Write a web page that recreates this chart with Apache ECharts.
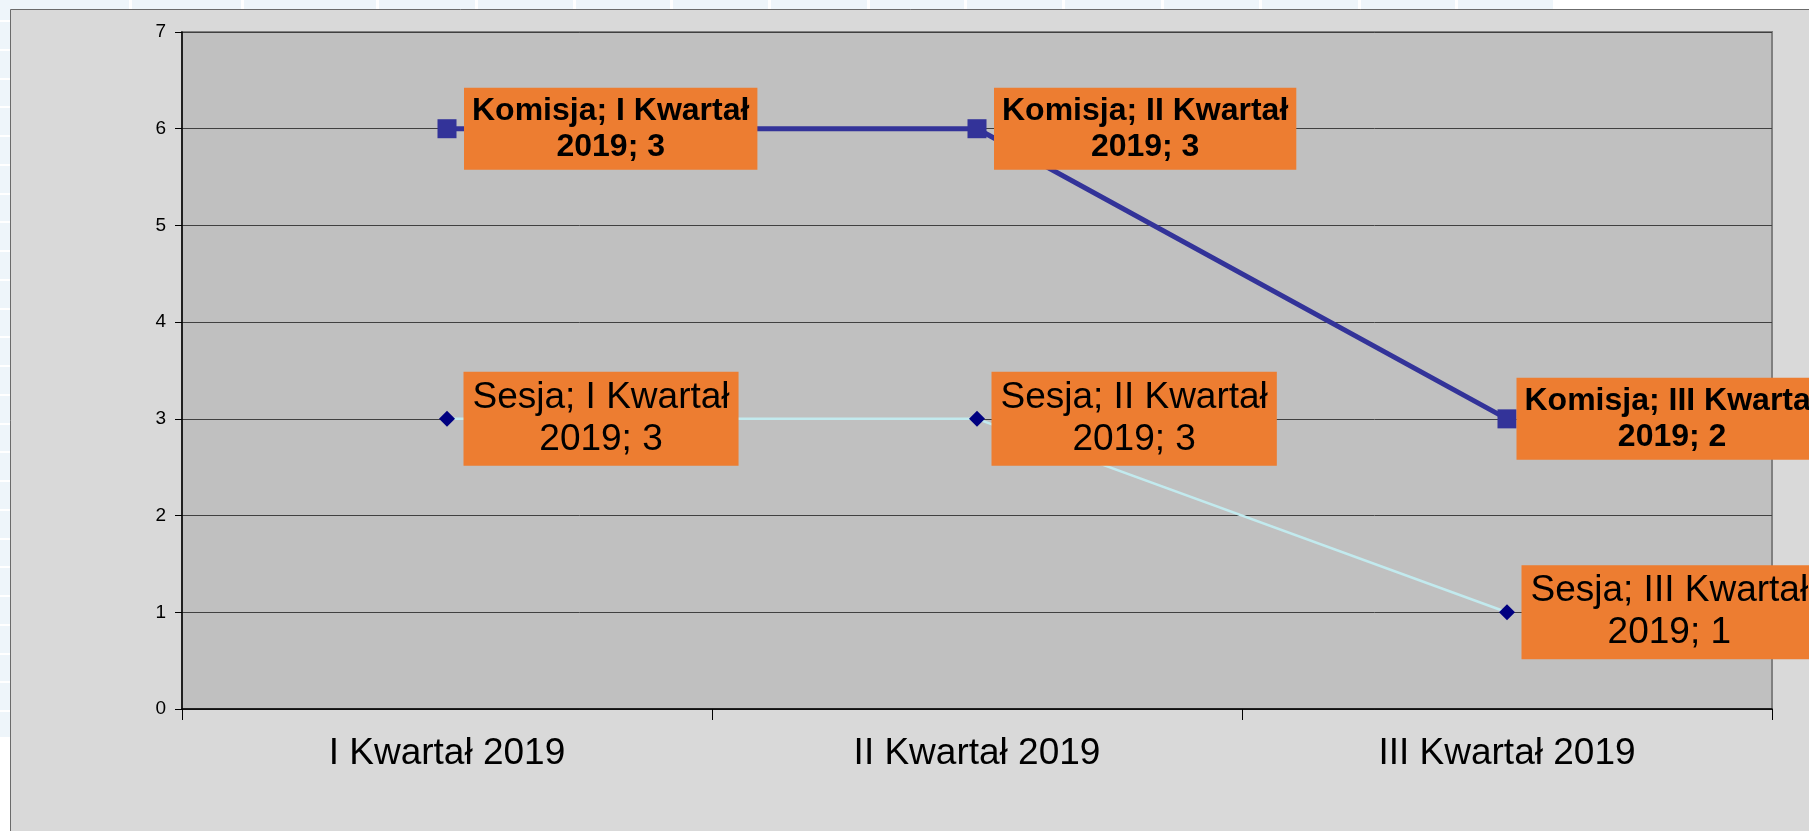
<!DOCTYPE html>
<html>
<head>
<meta charset="utf-8">
<script src="https://cdn.jsdelivr.net/npm/echarts@6/dist/echarts.min.js"></script>
<style>
  html, body { margin: 0; padding: 0; width: 1809px; height: 831px; overflow: hidden; background: #ffffff; }
  #bgcells { position: absolute; left: 0; top: 0; width: 1553px; height: 737px; background-color: #eef5fa; overflow: hidden; }
  #bgcells div { position: absolute; background: #ffffff; }
  #chart { position: absolute; left: 0; top: 0; width: 1809px; height: 831px; }
</style>
</head>
<body>
<div id="bgcells"></div>
<div id="chart"></div>
<script>
// ---- data ----
const categories = ['I Kwartał 2019', 'II Kwartał 2019', 'III Kwartał 2019'];
const sesjaValues = [3, 3, 1];
const komisjaValues = [3, 3, 2];
const yTicks = [0, 1, 2, 3, 4, 5, 6, 7];

const FONT = "'Liberation Sans', Arial, sans-serif";

// decorative spreadsheet-like page background behind the chart
(function () {
  const host = document.getElementById('bgcells');
  const cols = [129, 241, 376, 475, 573, 670, 768, 867, 964, 1062, 1161, 1259, 1358, 1455];
  cols.forEach(x => {
    const d = document.createElement('div');
    d.style.left = x + 'px'; d.style.top = '0px'; d.style.width = '3px'; d.style.height = '737px';
    host.appendChild(d);
  });
  for (let k = 0; k <= 24; k++) {
    const d = document.createElement('div');
    d.style.left = '0px'; d.style.top = Math.round(20 + k * 28.75) + 'px'; d.style.width = '1553px'; d.style.height = '2px';
    host.appendChild(d);
  }
})();

function labelText(p) {
  const cat = String(p.name);
  const cut = cat.lastIndexOf(' ');
  const line1 = p.seriesName + '; ' + cat.slice(0, cut);
  const line2 = cat.slice(cut + 1) + '; ' + p.value;
  return '{t|' + line1 + '}\n{t|' + line2 + '}';
}

const chart = echarts.init(document.getElementById('chart'), null, { renderer: 'canvas' });

const komisjaDist = [7.5, 7.5, 0];
const sesjaDist = [8.5, 6.5, 6.5];

chart.setOption({
  animation: false,
  backgroundColor: 'transparent',
  graphic: [{
    type: 'rect', z: -10, silent: true,
    shape: { x: 10.5, y: 9.5, width: 1820, height: 840 },
    style: { fill: '#d9d9d9', stroke: '#6b6b6b', lineWidth: 1 }
  }],
  grid: {
    left: 182, top: 32, width: 1590, height: 677,
    show: true, backgroundColor: '#c0c0c0', borderColor: '#808080', borderWidth: 2
  },
  xAxis: {
    type: 'category',
    data: categories,
    boundaryGap: true,
    axisLine: { show: true, lineStyle: { color: '#000', width: 1.5 } },
    axisTick: { show: true, inside: false, length: 11, alignWithLabel: false, lineStyle: { color: '#000', width: 1 } },
    axisLabel: { fontFamily: FONT, fontSize: 37, color: '#000', margin: 26 },
    splitLine: { show: false }
  },
  yAxis: {
    type: 'value',
    min: yTicks[0], max: yTicks[yTicks.length - 1], interval: 1,
    axisLine: { show: true, lineStyle: { color: '#000', width: 1.5 } },
    axisTick: { show: true, inside: false, length: 7, lineStyle: { color: '#000', width: 1 } },
    axisLabel: { fontFamily: FONT, fontSize: 19, color: '#000', margin: 16 },
    splitLine: { show: true, lineStyle: { color: '#404040', width: 1 } }
  },
  series: [
    {
      name: 'Sesja', type: 'line', stack: 'total',
      data: sesjaValues.map((v, i) => ({ value: v, label: { distance: sesjaDist[i] } })),
      symbol: 'diamond', symbolSize: 16,
      itemStyle: { color: '#000080' },
      lineStyle: { color: '#c2eaee', width: 2.5 },
      z: 3,
      label: {
        show: true, position: 'right', formatter: labelText,
        backgroundColor: '#ed7d31', padding: [5, 9, 5, 9],
        rich: { t: { fontFamily: FONT, fontSize: 37, lineHeight: 42, color: '#000', align: 'center' } }
      }
    },
    {
      name: 'Komisja', type: 'line', stack: 'total',
      data: komisjaValues.map((v, i) => ({ value: v, label: { distance: komisjaDist[i] } })),
      symbol: 'rect', symbolSize: 19,
      itemStyle: { color: '#333399' },
      lineStyle: { color: '#333399', width: 5 },
      z: 4,
      label: {
        show: true, position: 'right', formatter: labelText,
        backgroundColor: '#ed7d31', padding: [5, 8, 5, 8],
        rich: { t: { fontFamily: FONT, fontSize: 32, fontWeight: 'bold', lineHeight: 36, color: '#000', align: 'center' } }
      }
    }
  ]
});
</script>
</body>
</html>
